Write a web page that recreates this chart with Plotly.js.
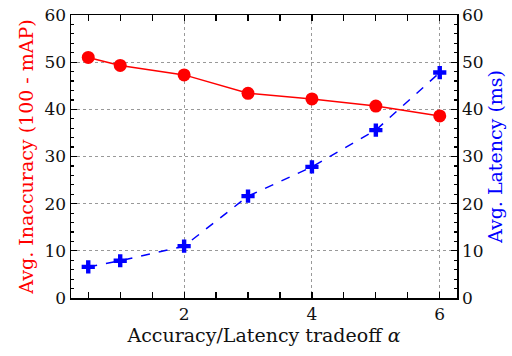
<!DOCTYPE html>
<html><head><meta charset="utf-8">
<script src="https://cdn.plot.ly/plotly-3.0.1.min.js"></script>
<style>html,body{margin:0;padding:0;background:#fff}</style>
</head><body><div id="chart" style="width:512px;height:356px"></div>
<script>
const alpha = [0.5, 1, 2, 3, 4, 5, 6];
const inaccuracy = [51.0, 49.3, 47.3, 43.4, 42.2, 40.7, 38.6];
const latency = [6.6, 7.9, 11.0, 21.6, 27.8, 35.6, 47.8];
const xTitle = 'Accuracy/Latency tradeoff <i>α</i>';
const y1Title = 'Avg. Inaccuracy (100 - mAP)';
const y2Title = 'Avg. Latency (ms)';

const FONT = 'DejaVu Serif';
const axisCommon = {
  showline: true, linecolor: '#000', linewidth: 1.5,
  ticks: 'inside', ticklen: 6, tickwidth: 1.2, tickcolor: '#000',
  mirror: 'allticks', zeroline: false,
  gridcolor: '#999', griddash: 'dot', gridwidth: 1,
  tickfont: {family: FONT, size: 17, color: '#111'}
};
const traces = [
  {x: alpha, y: inaccuracy, type: 'scatter', mode: 'lines+markers',
   line: {color: '#ff0000', width: 1.5},
   marker: {color: '#ff0000', size: 13, symbol: 'circle'}, yaxis: 'y'},
  {x: alpha, y: latency, type: 'scatter', mode: 'lines+markers',
   line: {color: '#0000ff', width: 1.5, dash: 'dash'},
   marker: {color: '#0000ff', size: 11, symbol: 'cross'}, yaxis: 'y2'}
];
const layout = {
  width: 512, height: 356,
  margin: {l: 71, r: 55, t: 15, b: 58},
  showlegend: false,
  paper_bgcolor: '#fff', plot_bgcolor: '#fff',
  xaxis: Object.assign({}, axisCommon, {
    range: [0.23, 6.27], dtick: 2, tick0: 0,
    minor: {dtick: 0.5, ticks: 'inside', ticklen: 3, tickcolor: '#000', showgrid: false},
    title: {text: xTitle, font: {family: FONT, size: 19, color: '#111'}, standoff: 5}
  }),
  yaxis: Object.assign({}, axisCommon, {
    range: [0, 60], dtick: 10,
    minor: {dtick: 2, ticks: 'inside', ticklen: 3, tickcolor: '#000', showgrid: false},
    title: {text: y1Title, font: {family: FONT, size: 19, color: '#ff0000'}, standoff: 6}
  }),
  yaxis2: Object.assign({}, axisCommon, {
    range: [0, 60], dtick: 10, overlaying: 'y', side: 'right', showgrid: false,
    minor: {dtick: 2, ticks: 'inside', ticklen: 3, tickcolor: '#000', showgrid: false},
    title: {text: y2Title, font: {family: FONT, size: 19, color: '#0000ff'}, standoff: 6}
  })
};
Plotly.newPlot('chart', traces, layout, {displayModeBar: false, staticPlot: true});
</script></body></html>
